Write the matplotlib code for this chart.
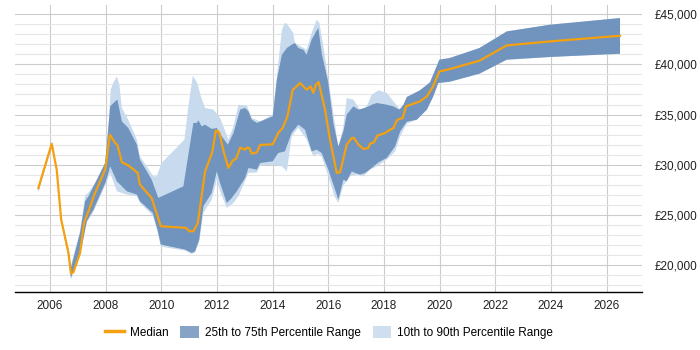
import matplotlib
matplotlib.use("Agg")
import matplotlib.pyplot as plt
import matplotlib.ticker as mticker
from matplotlib.patches import Patch
from matplotlib.lines import Line2D
import numpy as np

plt.rcParams['font.family'] = ['Liberation Sans', 'DejaVu Sans']

# Median salary (year, value)
med_x = [2005.58, 2006.06, 2006.24, 2006.40, 2006.66, 2006.75, 2006.84, 2007.08, 2007.22, 2007.38,
         2007.59, 2007.98, 2008.15, 2008.34, 2008.42, 2008.58, 2008.81, 2009.15, 2009.23, 2009.65,
         2009.98, 2010.88, 2011.01, 2011.15, 2011.31, 2011.57, 2011.82, 2011.96, 2012.08, 2012.25,
         2012.41, 2012.56, 2012.68, 2012.83, 2013.01, 2013.07, 2013.16, 2013.25, 2013.43, 2013.55,
         2014.00, 2014.20, 2014.36, 2014.53, 2014.72, 2014.84, 2014.98, 2015.22, 2015.37, 2015.46,
         2015.55, 2015.65, 2015.88, 2016.06, 2016.30, 2016.42, 2016.66, 2016.84, 2016.92, 2017.08,
         2017.26, 2017.44, 2017.50, 2017.64, 2017.76, 2018.04, 2018.12, 2018.34, 2018.46, 2018.55,
         2018.67, 2018.79, 2019.29, 2019.54, 2019.75, 2019.99, 2020.37, 2021.43, 2022.41, 2023.97,
         2026.48]
med_y = [27700, 32100, 29500, 24550, 21240, 19190, 19320, 21240, 24230, 25380,
         27040, 29520, 33000, 32180, 31980, 30250, 29950, 29200, 28030, 26710,
         23890, 23730, 23390, 23390, 24230, 29350, 31180, 33430, 33230, 31180,
         29690, 30420, 30590, 31710, 31510, 31710, 31680, 31110, 31240, 31980,
         32040, 33170, 33670, 34820, 37480, 37740, 38140, 37480, 37800, 37150,
         37970, 38240, 35490, 32500, 29200, 29260, 32010, 32670, 32670, 32010,
         31580, 31680, 32110, 32240, 32900, 33170, 33330, 33670, 34420, 34560,
         34660, 35820, 36310, 36810, 37740, 39290, 39530, 40360, 41880, 42280,
         42840]

# 25th percentile / 75th percentile
p75_x = [2005.58, 2006.06, 2006.24, 2006.40, 2006.66, 2006.75, 2007.08, 2007.26, 2007.38, 2007.98,
         2008.16, 2008.34, 2008.42, 2008.58, 2008.81, 2009.12, 2009.23, 2009.65, 2009.89, 2010.79,
         2011.15, 2011.27, 2011.33, 2011.45, 2011.57, 2011.81, 2011.99, 2012.17, 2012.39, 2012.59,
         2012.83, 2013.01, 2013.13, 2013.25, 2013.43, 2014.00, 2014.15, 2014.33, 2014.51, 2014.68,
         2014.80, 2014.92, 2015.10, 2015.22, 2015.40, 2015.56, 2015.64, 2015.76, 2016.00, 2016.18,
         2016.36, 2016.54, 2016.66, 2016.90, 2017.08, 2017.32, 2017.56, 2017.74, 2018.10, 2018.34,
         2018.55, 2018.70, 2018.82, 2019.29, 2019.65, 2019.99, 2020.37, 2021.43, 2022.41, 2023.97,
         2026.48]
p75_y = [27830, 32210, 29620, 24650, 21570, 19750, 23260, 26370, 26870, 30190,
         35820, 36310, 36480, 34320, 33670, 32010, 30520, 28530, 26710, 27860,
         34170, 34170, 34420, 33830, 34000, 33570, 33670, 32830, 32010, 33170,
         35490, 35660, 35320, 34490, 34170, 34820, 38470, 40950, 41620, 41950,
         42120, 41620, 41450, 40950, 42450, 43270, 43610, 41120, 38140, 34170,
         31840, 33330, 34990, 35820, 35490, 35660, 35980, 36150, 35980, 35820,
         35490, 35980, 36750, 37410, 38200, 40460, 40630, 41620, 43270, 43940,
         44600]

p25_x = [2005.58, 2006.06, 2006.24, 2006.40, 2006.66, 2006.75, 2007.14, 2007.32, 2007.56, 2008.01,
         2008.16, 2008.40, 2008.76, 2009.12, 2009.23, 2009.69, 2009.86, 2009.98, 2010.85, 2011.09,
         2011.21, 2011.36, 2011.51, 2011.81, 2011.99, 2012.11, 2012.35, 2012.53, 2012.71, 2013.01,
         2013.13, 2013.43, 2013.55, 2014.00, 2014.20, 2014.44, 2014.68, 2014.92, 2015.16, 2015.40,
         2015.58, 2015.76, 2016.00, 2016.24, 2016.36, 2016.54, 2016.66, 2016.84, 2016.96, 2017.14,
         2017.32, 2017.56, 2017.80, 2018.10, 2018.40, 2018.58, 2018.82, 2019.18, 2019.54, 2019.77,
         2019.95, 2020.37, 2021.43, 2022.41, 2023.97, 2026.48]
p25_y = [27370, 31910, 29330, 24360, 20980, 18760, 21900, 24380, 25550, 28360,
         29850, 28360, 27370, 27040, 26370, 25220, 23560, 22070, 21570, 21240,
         21400, 22570, 25880, 27210, 29350, 28200, 26210, 26710, 27370, 28700,
         29690, 29520, 30190, 30350, 31180, 31340, 33170, 34000, 33500, 31340,
         31510, 31180, 29520, 27540, 26540, 28530, 28360, 29350, 29200, 29030,
         29200, 29690, 30250, 30690, 31840, 33330, 34290, 34490, 35490, 36810,
         38140, 38270, 39070, 40460, 40730, 41050]

# 10th percentile / 90th percentile
p90_x = [2005.58, 2006.06, 2006.24, 2006.40, 2006.66, 2006.75, 2007.08, 2007.26, 2007.38, 2007.92,
         2008.05, 2008.18, 2008.27, 2008.40, 2008.49, 2008.58, 2008.81, 2009.12, 2009.23, 2009.71,
         2009.83, 2010.01, 2010.83, 2010.97, 2011.13, 2011.29, 2011.42, 2011.57, 2011.87, 2012.11,
         2012.41, 2012.59, 2012.77, 2013.07, 2013.25, 2013.55, 2014.00, 2014.15, 2014.33, 2014.44,
         2014.51, 2014.74, 2014.80, 2015.22, 2015.40, 2015.58, 2015.68, 2015.82, 2016.00, 2016.18,
         2016.36, 2016.54, 2016.66, 2016.90, 2017.14, 2017.38, 2017.56, 2017.80, 2018.10, 2018.34,
         2018.58, 2018.70, 2018.82, 2019.29, 2019.65, 2019.99, 2020.37, 2021.43, 2022.41, 2023.97,
         2026.48]
p90_y = [27930, 32260, 29720, 24750, 21670, 19980, 23460, 26940, 27240, 29330,
         31510, 37480, 38140, 38800, 37970, 35660, 34490, 32510, 30850, 28860,
         28860, 30190, 32510, 35820, 38870, 38140, 36810, 35660, 35490, 34660,
         32510, 33830, 35980, 35890, 34660, 34320, 34990, 38800, 43440, 44110,
         44040, 43110, 42120, 41450, 43110, 44430, 44110, 41780, 38470, 35160,
         31680, 33830, 36650, 36480, 35490, 35820, 36980, 37410, 37150, 36310,
         35490, 35980, 36750, 37410, 38200, 40460, 40630, 41620, 43270, 43940,
         44600]

p10_x = [2005.58, 2006.06, 2006.24, 2006.40, 2006.66, 2006.75, 2007.14, 2007.32, 2007.56, 2008.01,
         2008.16, 2008.40, 2008.76, 2009.12, 2009.23, 2009.69, 2009.86, 2009.98, 2010.85, 2011.09,
         2011.21, 2011.36, 2011.51, 2011.81, 2011.99, 2012.11, 2012.35, 2012.59, 2012.77, 2013.13,
         2013.43, 2013.55, 2014.00, 2014.33, 2014.51, 2014.68, 2014.92, 2015.22, 2015.46, 2015.63,
         2015.76, 2016.00, 2016.22, 2016.36, 2016.54, 2016.78, 2017.02, 2017.26, 2017.50, 2017.74,
         2018.10, 2018.40, 2018.58, 2018.82, 2019.18, 2019.54, 2019.77, 2019.95, 2020.37, 2021.43,
         2022.41, 2023.97, 2026.48]
p10_y = [27290, 31860, 29230, 24260, 20780, 18590, 21770, 24260, 25350, 28130,
         29200, 27370, 27040, 26870, 26210, 24950, 23360, 21870, 21470, 21120,
         21280, 22370, 25220, 26540, 28530, 27370, 25720, 26210, 26870, 29200,
         29230, 29920, 30020, 29850, 29350, 32830, 33700, 32510, 30850, 31110,
         30820, 28860, 26870, 26210, 27930, 28860, 29030, 28860, 29520, 29850,
         30520, 31340, 32830, 34100, 34490, 35490, 36810, 38140, 38270, 39070,
         40460, 40730, 41050]

year_ticks = list(range(2006, 2027, 2))

fig = plt.figure(figsize=(7, 3.5), dpi=100)
ax = fig.add_axes([15 / 700, 58 / 350, 627 / 700, 287 / 350])

light = '#c8daee'
dark = '#7094bd'
orange = '#f5a00f'

ax.fill(np.r_[p90_x, p10_x[::-1]], np.r_[p90_y, p10_y[::-1]], color=light, lw=0, zorder=2)
ax.fill(np.r_[p75_x, p25_x[::-1]], np.r_[p75_y, p25_y[::-1]], color=dark, lw=0, zorder=3)
ax.plot(med_x, med_y, color=orange, lw=1.6, zorder=4)

ax.set_xlim(2004.74, 2027.27)
ax.set_ylim(17350, 45900)

ax.yaxis.tick_right()
ax.yaxis.set_major_locator(mticker.MultipleLocator(5000))
ax.yaxis.set_minor_locator(mticker.MultipleLocator(1000))
ax.yaxis.set_major_formatter(mticker.FuncFormatter(lambda v, p: f'£{v:,.0f}'))
ax.set_xticks(year_ticks)
ax.set_xticklabels([str(y) for y in year_ticks])

ax.grid(True, which='major', color='#cccccc', lw=0.8, zorder=0)
ax.grid(True, which='minor', axis='y', color='#e6e6e6', lw=0.8, zorder=0)
ax.tick_params(axis='both', which='both', length=0, labelsize=8.5, colors='#222222')
ax.tick_params(axis='y', pad=9)
ax.tick_params(axis='x', pad=6)
for s in ['left', 'right', 'top']:
    ax.spines[s].set_visible(False)
ax.spines['bottom'].set_color('#000000')
ax.spines['bottom'].set_linewidth(1.0)
ax.set_axisbelow(True)

handles = [Line2D([0], [0], color=orange, lw=2.5),
           Patch(facecolor='#86a3c6', edgecolor='none'),
           Patch(facecolor='#cfdff0', edgecolor='none')]
labels = ['Median', '25th to 75th Percentile Range', '10th to 90th Percentile Range']
fig.legend(handles, labels, loc='center', bbox_to_anchor=(0.47, 0.05), ncol=3, frameon=False,
           fontsize=8.5, handlelength=1.6, handleheight=1.2, columnspacing=1.0, handletextpad=0.5)

fig.savefig('out.png', dpi=100)
